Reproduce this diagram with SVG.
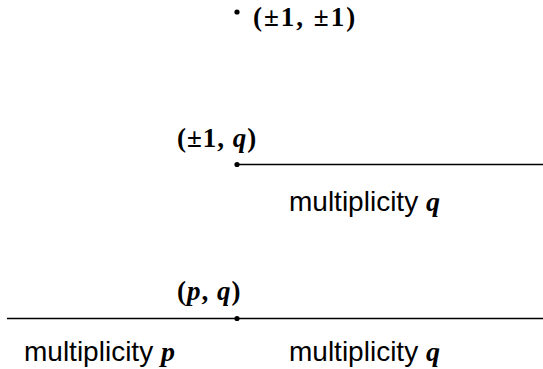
<svg xmlns="http://www.w3.org/2000/svg" width="543" height="369" viewBox="0 0 543 369">
<style>
.m{font-family:"Liberation Serif",serif;font-weight:bold;font-size:27px;fill:#000;letter-spacing:1px}
.s{font-family:"Liberation Sans",Arial,sans-serif;font-size:28px;fill:#000}
.v{font-family:"Liberation Serif",serif;font-weight:bold;font-style:italic}
.ln{stroke:#000;stroke-width:1.4;fill:none}
</style>
<rect width="543" height="369" fill="#fff"/>
<g id="connectors">
<line class="ln" x1="237" y1="164.5" x2="543" y2="164.5"/>
<line class="ln" x1="7" y1="318.5" x2="543" y2="318.5"/>
</g>
<g id="point-pm1-pm1">
<circle cx="237" cy="12" r="2.6"/>
<text class="m" x="253" y="25.5" style="letter-spacing:2px">(±1, ±1)</text>
</g>
<g id="point-pm1-q">
<circle cx="237" cy="164.5" r="2.6"/>
<text class="m" x="177" y="147">(±1, <tspan class="v">q</tspan>)</text>
<text class="s" x="289" y="211">multiplicity <tspan class="v">q</tspan></text>
</g>
<g id="point-p-q">
<circle cx="237" cy="318.5" r="2.6"/>
<text class="m" x="177" y="300">(<tspan class="v">p</tspan>, <tspan class="v">q</tspan>)</text>
<text class="s" x="24" y="361">multiplicity <tspan class="v">p</tspan></text>
<text class="s" x="289" y="361">multiplicity <tspan class="v">q</tspan></text>
</g>
</svg>
